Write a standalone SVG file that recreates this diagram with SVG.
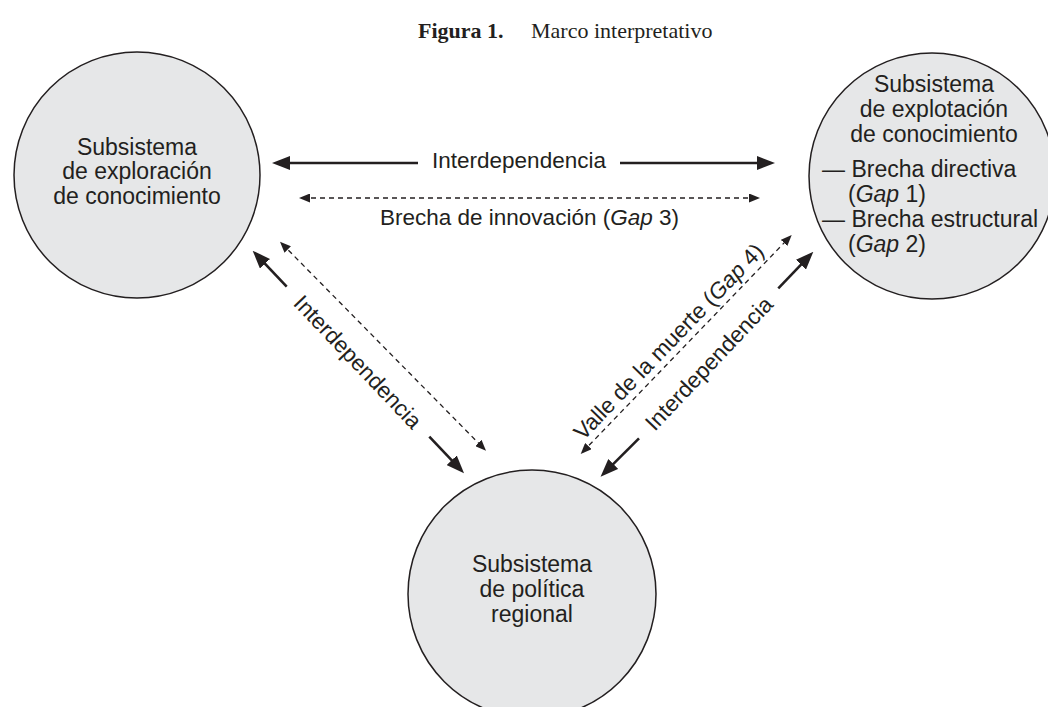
<svg xmlns="http://www.w3.org/2000/svg" width="1048" height="707" viewBox="0 0 1048 707">
<style>
.node{fill:#e6e7e8;stroke:#231f20;stroke-width:1.5}
.nt{font-family:"Liberation Sans",Arial,sans-serif;font-size:23px;fill:#231f20}
.lb{font-family:"Liberation Sans",Arial,sans-serif;font-size:22.5px;fill:#231f20}
.title{font-family:"Liberation Serif","Times New Roman",serif;font-size:22px;fill:#231f20}
.solid{stroke:#231f20;stroke-width:2.6;fill:none}
.dash{stroke:#231f20;stroke-width:1.3;fill:none;stroke-dasharray:5 4}
</style>
<defs>
<marker id="ah" viewBox="0 0 18 14" refX="13" refY="7" markerWidth="18" markerHeight="14" markerUnits="userSpaceOnUse" orient="auto-start-reverse">
<path d="M0,0 L18,7 L0,14 Z" fill="#231f20"/>
</marker>
<marker id="ahs" viewBox="0 0 11 9" refX="8" refY="4.5" markerWidth="11" markerHeight="9" markerUnits="userSpaceOnUse" orient="auto-start-reverse">
<path d="M0,0 L11,4.5 L0,9 Z" fill="#231f20"/>
</marker>
</defs>
<rect width="1048" height="707" fill="#ffffff"/>
<g id="title">
<text class="title" x="418" y="38"><tspan font-weight="bold">Figura 1.</tspan></text>
<text class="title" x="531" y="38">Marco interpretativo</text>
</g>
<g id="connectors">
<line class="solid" x1="418" y1="163" x2="277" y2="163" marker-end="url(#ah)"/>
<line class="solid" x1="620" y1="163" x2="770" y2="163" marker-end="url(#ah)"/>
<text class="lb" x="519" y="168" text-anchor="middle">Interdependencia</text>
<line class="dash" x1="302" y1="198" x2="757" y2="198" marker-start="url(#ahs)" marker-end="url(#ahs)"/>
<text class="lb" x="529.5" y="225" text-anchor="middle">Brecha de innovación (<tspan font-style="italic">Gap</tspan> 3)</text>
<line class="solid" x1="286.7" y1="286.7" x2="256.1" y2="254.3" marker-end="url(#ah)"/>
<line class="solid" x1="429.3" y1="436.7" x2="460.6" y2="469.7" marker-end="url(#ah)"/>
<text class="lb" transform="translate(358,361.7) rotate(46.5)" x="0" y="8" text-anchor="middle">Interdependencia</text>
<line class="dash" x1="282.1" y1="243.8" x2="483.9" y2="448.6" marker-start="url(#ahs)" marker-end="url(#ahs)"/>
<line class="solid" x1="778.3" y1="288.3" x2="809.9" y2="255.3" marker-end="url(#ah)"/>
<line class="solid" x1="639" y1="438.3" x2="604.1" y2="473.1" marker-end="url(#ah)"/>
<text class="lb" transform="translate(708.7,363.3) rotate(-46.6)" x="0" y="8" text-anchor="middle">Interdependencia</text>
<line class="dash" x1="582.8" y1="451.8" x2="789.6" y2="237.2" marker-start="url(#ahs)" marker-end="url(#ahs)"/>
<text class="lb" transform="translate(679.2,351.8) rotate(-46.05)" x="0" y="-7" text-anchor="middle">Valle de la muerte (<tspan font-style="italic">Gap</tspan> 4)</text>
</g>
<g id="node-exploracion">
<circle class="node" cx="137" cy="175" r="123"/>
<text class="nt" text-anchor="middle"><tspan x="137" y="155">Subsistema</tspan><tspan x="137" y="179">de exploración</tspan><tspan x="137" y="204">de conocimiento</tspan></text>
</g>
<g id="node-explotacion">
<circle class="node" cx="932" cy="176" r="123"/>
<text class="nt" text-anchor="middle"><tspan x="934" y="92">Subsistema</tspan><tspan x="934" y="117">de explotación</tspan><tspan x="934" y="142">de conocimiento</tspan></text>
<text class="nt"><tspan x="822" y="177">— Brecha directiva</tspan><tspan x="848" y="202">(<tspan font-style="italic">Gap</tspan> 1)</tspan><tspan x="822" y="227">— Brecha estructural</tspan><tspan x="848" y="252">(<tspan font-style="italic">Gap</tspan> 2)</tspan></text>
</g>
<g id="node-politica">
<circle class="node" cx="532" cy="594" r="124"/>
<text class="nt" text-anchor="middle"><tspan x="532" y="572">Subsistema</tspan><tspan x="532" y="597">de política</tspan><tspan x="532" y="622">regional</tspan></text>
</g>
</svg>
